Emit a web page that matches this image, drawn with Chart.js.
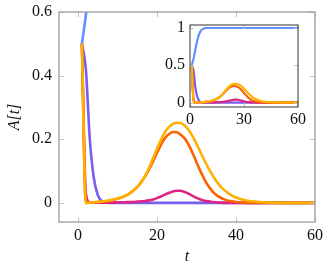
<!DOCTYPE html>
<html>
<head>
<meta charset="utf-8">
<script src="https://cdn.jsdelivr.net/npm/chart.js@4/dist/chart.umd.min.js"></script>
<style>
  html, body { margin: 0; padding: 0; background: #fff; }
  #wrap { position: relative; width: 329px; height: 268px; }
  #main { position: absolute; left: 0; top: 0; }
  #inset { position: absolute; left: 160px; top: 10px; }
</style>
</head>
<body>
<div id="wrap">
  <canvas id="main" width="329" height="268"></canvas>
  <canvas id="inset" width="160" height="118"></canvas>
</div>
<script>
// time steps
const times = [1, 2, 3, 4, 5, 6, 7, 8, 9, 10, 11, 12, 13, 14, 15, 16, 17, 18, 19, 20,
  21, 22, 23, 24, 25, 26, 27, 28, 29, 30, 31, 32, 33, 34, 35, 36, 37, 38, 39, 40,
  41, 42, 43, 44, 45, 46, 47, 48, 49, 50, 51, 52, 53, 54, 55, 56, 57, 58, 59, 60];

// series
const blueVals = [0.5, 0.59, 0.71, 0.83, 0.91, 0.96, 0.985, 0.995, 1, 1, 1, 1, 1, 1, 1, 1, 1, 1, 1, 1,
  1, 1, 1, 1, 1, 1, 1, 1, 1, 1, 1, 1, 1, 1, 1, 1, 1, 1, 1, 1,
  1, 1, 1, 1, 1, 1, 1, 1, 1, 1, 1, 1, 1, 1, 1, 1, 1, 1, 1, 1];
const purpleVals = [0.5, 0.42, 0.2, 0.08, 0.025, 0.006, 0.001, 0, 0, 0, 0, 0, 0, 0, 0, 0, 0, 0, 0, 0,
  0, 0, 0, 0, 0, 0, 0, 0, 0, 0, 0, 0, 0, 0, 0, 0, 0, 0, 0, 0,
  0, 0, 0, 0, 0, 0, 0, 0, 0, 0, 0, 0, 0, 0, 0, 0, 0, 0, 0, 0];
const magentaVals = [0.5, 0.03, 0.001, 0.001, 0.001, 0.001, 0.001, 0.001, 0.001, 0.002,
  0.002, 0.002, 0.003, 0.003, 0.004, 0.005, 0.006, 0.008, 0.011, 0.015,
  0.02, 0.026, 0.031, 0.036, 0.038, 0.038, 0.034, 0.029, 0.022, 0.016,
  0.011, 0.007, 0.005, 0.003, 0.002, 0.001, 0, 0, 0, 0,
  0, 0, 0, 0, 0, 0, 0, 0, 0, 0, 0, 0, 0, 0, 0, 0, 0, 0, 0, 0];
const orangeVals = [0.5, 0, 0.001, 0.002, 0.003, 0.004, 0.005, 0.007, 0.01, 0.013,
  0.017, 0.022, 0.029, 0.038, 0.05, 0.066, 0.084, 0.105, 0.13, 0.157,
  0.182, 0.203, 0.216, 0.223, 0.222, 0.214, 0.203, 0.183, 0.157, 0.128,
  0.1, 0.075, 0.053, 0.037, 0.025, 0.017, 0.011, 0.007, 0.005, 0.003,
  0.002, 0.001, 0, 0, 0, 0, 0, 0, 0, 0, 0, 0, 0, 0, 0, 0, 0, 0, 0, 0];
const yellowVals = [0.5, 0, 0.001, 0.002, 0.003, 0.004, 0.006, 0.008, 0.011, 0.014,
  0.018, 0.023, 0.03, 0.039, 0.05, 0.064, 0.085, 0.11, 0.14, 0.17,
  0.198, 0.222, 0.238, 0.248, 0.252, 0.251, 0.243, 0.229, 0.21, 0.186,
  0.16, 0.134, 0.11, 0.088, 0.069, 0.053, 0.041, 0.031, 0.023, 0.017,
  0.013, 0.009, 0.007, 0.005, 0.004, 0.003, 0.002, 0.0015, 0.001, 0.001,
  0, 0, 0, 0, 0, 0, 0, 0, 0, 0];

// tick labels
const mainXTicks = [0, 20, 40, 60];
const mainYTicks = [0, 0.2, 0.4, 0.6];
const insetXTicks = [0, 30, 60];
const insetYTicks = [0, 0.5, 1];

const serif = "'Liberation Serif', 'DejaVu Serif', serif";

// yellow first so it ends up on top
const series = [
    { vals: yellowVals, color: "#FFB000" },
    { vals: orangeVals, color: "#FE6100" },
    { vals: magentaVals, color: "#DC267F" },
    { vals: purpleVals, color: "#785EF0" },
    { vals: blueVals, color: "#648FFF" },
];

function makeDatasets(width) {
    return series.map((s) => ({
        data: times.map((t, i) => ({ x: t, y: s.vals[i] })),
        borderColor: s.color,
        borderWidth: width,
        pointRadius: 0,
        cubicInterpolationMode: "monotone",
        borderJoinStyle: "round",
    }));
}

// pgfplots-like frame with inward ticks
const frameTicks = {
    id: "frameTicks",
    beforeDraw(chart, args, opts) {
        if (!opts.fill) return;
        const a = chart.chartArea;
        chart.ctx.save();
        chart.ctx.fillStyle = opts.fill;
        chart.ctx.fillRect(a.left, a.top, a.width, a.height);
        chart.ctx.restore();
    },
    afterDatasetsDraw(chart, args, opts) {
        const { ctx, chartArea: a, scales } = chart;
        ctx.save();
        ctx.lineWidth = 1;
        ctx.strokeStyle = opts.tickColor;
        ctx.beginPath();
        scales.x.ticks.forEach((t) => {
            const px = Math.round(scales.x.getPixelForValue(t.value)) + 0.5;
            ctx.moveTo(px, a.bottom);
            ctx.lineTo(px, a.bottom - opts.len);
            ctx.moveTo(px, a.top);
            ctx.lineTo(px, a.top + opts.len);
        });
        scales.y.ticks.forEach((t) => {
            const py = Math.round(scales.y.getPixelForValue(t.value)) + 0.5;
            ctx.moveTo(a.left, py);
            ctx.lineTo(a.left + opts.len, py);
            ctx.moveTo(a.right, py);
            ctx.lineTo(a.right - opts.len, py);
        });
        ctx.stroke();
        ctx.strokeStyle = opts.frameColor;
        ctx.lineWidth = opts.frameWidth;
        ctx.strokeRect(a.left, a.top, a.width, a.height);
        ctx.restore();
    },
};

function axis(min, max, tickVals, extra) {
    return Object.assign({
        type: "linear",
        min: min,
        max: max,
        grid: { display: false, drawTicks: false },
        border: { display: false },
        afterBuildTicks: (s) => {
            s.ticks = tickVals.map((v) => ({ value: v }));
        },
    }, extra);
}

function tickFont(pad) {
    return {
        padding: pad,
        color: "#111",
        font: { family: serif, size: 16 },
        callback: (v) => String(v),
    };
}

// Main chart
new Chart(document.getElementById("main"), {
    type: "line",
    data: { datasets: makeDatasets(2.6) },
    options: {
        responsive: false,
        animation: false,
        layout: { padding: { top: 12, right: 14, left: 0, bottom: 0 } },
        plugins: {
            legend: { display: false },
            tooltip: { enabled: false },
            frameTicks: { tickColor: "#c4c4c4", frameColor: "#9a9a9a", frameWidth: 1.3, len: 5 },
        },
        scales: {
            x: axis(-4.8, 60, mainXTicks, {
                ticks: tickFont(4),
                title: { display: true, text: "t", color: "#111", padding: { top: 0, bottom: 2 },
                    font: { family: serif, size: 16, style: "italic" } },
                afterFit: (s) => { s.height = 46; s.paddingLeft = 0; s.paddingRight = 0; },
            }),
            y: axis(-0.06, 0.6, mainYTicks, {
                ticks: tickFont(7),
                title: { display: true, text: "A[t]", color: "#111", padding: { top: 5, bottom: 0 },
                    font: { family: serif, size: 16, style: "italic" } },
                afterFit: (s) => { s.width = 59; s.paddingTop = 0; s.paddingBottom = 0; },
            }),
        },
    },
    plugins: [frameTicks],
});

// Inset chart
new Chart(document.getElementById("inset"), {
    type: "line",
    data: { datasets: makeDatasets(2.2) },
    options: {
        responsive: false,
        animation: false,
        layout: { padding: { top: 15, right: 22, left: 0, bottom: 0 } },
        plugins: {
            legend: { display: false },
            tooltip: { enabled: false },
            frameTicks: { fill: "#fff", tickColor: "#c4c4c4", frameColor: "#333", frameWidth: 1, len: 4 },
        },
        scales: {
            x: axis(0, 60, insetXTicks, {
                ticks: tickFont(3),
                afterFit: (s) => { s.height = 21; s.paddingLeft = 0; s.paddingRight = 0; },
            }),
            y: axis(-0.06, 1.04, insetYTicks, {
                ticks: tickFont(5),
                afterFit: (s) => { s.width = 30; s.paddingTop = 0; s.paddingBottom = 0; },
            }),
        },
    },
    plugins: [frameTicks],
});
</script>
</body>
</html>
